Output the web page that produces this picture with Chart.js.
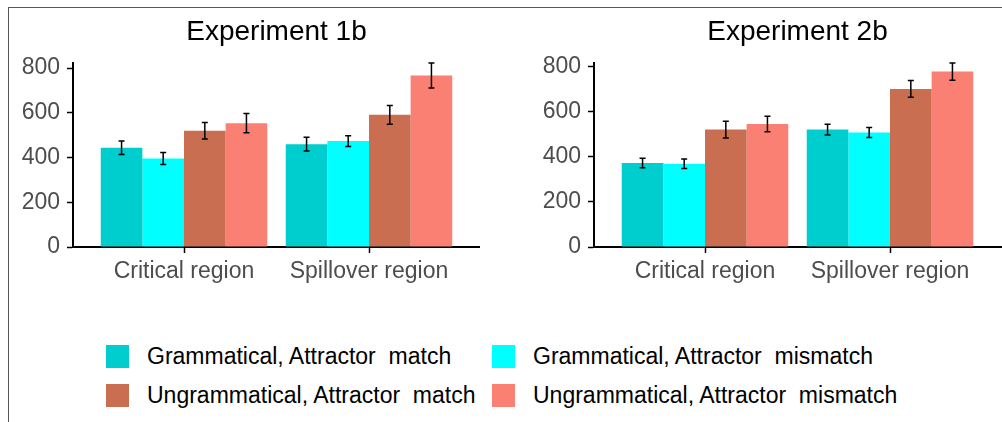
<!DOCTYPE html>
<html>
<head>
<meta charset="utf-8">
<script src="https://cdn.jsdelivr.net/npm/chart.js@4"></script>
<style>
  html, body { margin: 0; padding: 0; background: #fff; }
  body { width: 1002px; height: 422px; position: relative; overflow: hidden; font-family: "Liberation Sans", Arial, sans-serif; }
  #frame { position: absolute; left: 8px; top: 7px; width: 1000px; height: 420px; border-left: 1.5px solid #555; border-top: 1.5px solid #555; }
  #c1 { position: absolute; left: 10px; top: 9px; }
  #c2 { position: absolute; left: 520px; top: 9px; }
  #legend { position: absolute; left: 106px; top: 345px; display: grid; grid-template-columns: 386px auto; row-gap: 16px; }
  .item { display: flex; align-items: center; height: 23px; }
  .key { width: 23px; height: 23px; margin-right: 18px; flex: none; }
  .lab { font-size: 23px; color: #000; white-space: pre; line-height: 23px; }
</style>
</head>
<body>
<div id="frame"></div>
<canvas id="c1" width="470" height="280" style="width:470px;height:280px"></canvas>
<canvas id="c2" width="482" height="280" style="width:482px;height:280px"></canvas>
<div id="legend"></div>
<script>
// ---- data ----
const regions = ['Critical region', 'Spillover region'];
const conditions = ['Grammatical, Attractor  match', 'Grammatical, Attractor  mismatch', 'Ungrammatical, Attractor  match', 'Ungrammatical, Attractor  mismatch'];
const colors = ['#00CDCD', '#00FFFF', '#C96E50', '#F98072'];
const yTicks = [0, 200, 400, 600, 800];

// Experiment 1b: means and error half-widths per condition [critical, spillover]
const exp1_gramMatch = [444, 460];
const exp1_gramMismatch = [396, 474];
const exp1_ungramMatch = [520, 591];
const exp1_ungramMismatch = [554, 767];
const exp1_err_gramMatch = [30, 31];
const exp1_err_gramMismatch = [27, 24];
const exp1_err_ungramMatch = [37, 42];
const exp1_err_ungramMismatch = [43, 56];

// Experiment 2b
const exp2_gramMatch = [372, 520];
const exp2_gramMismatch = [369, 507];
const exp2_ungramMatch = [520, 700];
const exp2_ungramMismatch = [545, 777];
const exp2_err_gramMatch = [21, 24];
const exp2_err_gramMismatch = [21, 22];
const exp2_err_ungramMatch = [37, 37];
const exp2_err_ungramMismatch = [34, 38];

const FONT = '"Liberation Sans", Arial, sans-serif';

function makeDatasets(means, errs) {
  return means.map((arr, i) => ({
    label: conditions[i],
    data: arr.map((v, j) => ({ x: j + 1, y: v })),
    errors: errs[i],
    backgroundColor: colors[i],
    borderWidth: 0,
    categoryPercentage: 0.9,
    barPercentage: 1.0
  }));
}

const errorBars = {
  id: 'errorBars',
  afterDatasetsDraw(chart) {
    const ctx = chart.ctx;
    const ys = chart.scales.y;
    ctx.save();
    ctx.strokeStyle = '#000';
    ctx.lineWidth = 1.5;
    chart.data.datasets.forEach((ds, di) => {
      const meta = chart.getDatasetMeta(di);
      meta.data.forEach((bar, j) => {
        const v = ds.data[j].y, e = ds.errors[j];
        const x = bar.x;
        const y1 = ys.getPixelForValue(v + e), y2 = ys.getPixelForValue(v - e);
        ctx.beginPath();
        ctx.moveTo(x, y1); ctx.lineTo(x, y2);
        ctx.moveTo(x - 3, y1); ctx.lineTo(x + 3, y1);
        ctx.moveTo(x - 3, y2); ctx.lineTo(x + 3, y2);
        ctx.stroke();
      });
    });
    ctx.restore();
  }
};

const centerTitle = {
  id: 'centerTitle',
  afterLayout(chart) {
    if (chart.titleBlock) {
      chart.titleBlock.left = chart.chartArea.left;
      chart.titleBlock.right = chart.chartArea.right;
    }
  }
};

function makeChart(id, title, datasets, yMax, yWidth, padRight) {
  return new Chart(document.getElementById(id), {
    type: 'bar',
    data: { datasets },
    plugins: [errorBars, centerTitle],
    options: {
      responsive: false,
      animation: false,
      devicePixelRatio: 1,
      layout: { padding: { left: 0, right: padRight, top: 0, bottom: 0 } },
      plugins: {
        legend: { display: false },
        tooltip: { enabled: false },
        title: {
          display: true, text: title, color: '#000',
          font: { family: FONT, size: 28, weight: 'normal', lineHeight: 1.2 },
          padding: { top: 6.7, bottom: 13.7 }
        }
      },
      scales: {
        x: {
          type: 'linear', min: 0.4, max: 2.6, offset: false, bounds: 'data',
          afterBuildTicks(scale) { scale.ticks = regions.map((r, i) => ({ value: i + 1 })); },
          afterFit(scale) { scale.height = 42; },
          ticks: {
            callback: (v) => regions[Math.round(v) - 1],
            color: '#4D4D4D', font: { family: FONT, size: 23 }, padding: 5, maxRotation: 0, autoSkip: false
          },
          grid: { offset: false, drawOnChartArea: false, drawTicks: true, tickLength: 6, tickColor: '#000', tickWidth: 1.5 },
          border: { display: true, color: '#000', width: 2 }
        },
        y: {
          min: 0, max: yMax,
          afterBuildTicks(scale) { scale.ticks = yTicks.map(v => ({ value: v })); },
          afterFit(scale) { scale.width = yWidth; },
          ticks: { color: '#4D4D4D', font: { family: FONT, size: 23 }, padding: 7 },
          grid: { drawOnChartArea: false, drawTicks: true, tickLength: 6, tickColor: '#000', tickWidth: 1.5 },
          border: { display: true, color: '#000', width: 2 }
        }
      }
    }
  });
}

makeChart('c1', 'Experiment 1b',
  makeDatasets([exp1_gramMatch, exp1_gramMismatch, exp1_ungramMatch, exp1_ungramMismatch],
               [exp1_err_gramMatch, exp1_err_gramMismatch, exp1_err_ungramMatch, exp1_err_ungramMismatch]),
  823, 63, 0);
makeChart('c2', 'Experiment 2b',
  makeDatasets([exp2_gramMatch, exp2_gramMismatch, exp2_ungramMatch, exp2_ungramMismatch],
               [exp2_err_gramMatch, exp2_err_gramMismatch, exp2_err_ungramMatch, exp2_err_ungramMismatch]),
  815, 74, 1);

// HTML legend built from the same condition/colour arrays
const leg = document.getElementById('legend');
conditions.forEach((c, i) => {
  const it = document.createElement('div'); it.className = 'item';
  const k = document.createElement('div'); k.className = 'key'; k.style.background = colors[i];
  const l = document.createElement('span'); l.className = 'lab'; l.textContent = c;
  it.appendChild(k); it.appendChild(l); leg.appendChild(it);
});
</script>
</body>
</html>
